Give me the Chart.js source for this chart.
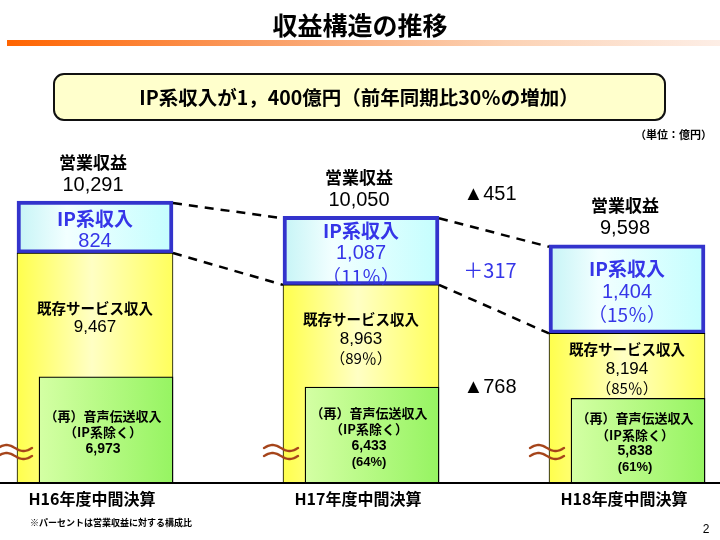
<!DOCTYPE html>
<html><head><meta charset="utf-8">
<script src="https://cdn.jsdelivr.net/npm/chart.js@4"></script>
<style>html,body{margin:0;padding:0;background:#fff;}canvas{display:block;}</style>
</head><body>
<canvas id="c" width="720" height="540"></canvas>
<script>
// ---- data ----
const categories = ['H16年度中間決算', 'H17年度中間決算', 'H18年度中間決算'];
const operatingRevenue = [10291, 10050, 9598];
const ipRevenue = [824, 1087, 1404];
const existingRevenue = [9467, 8963, 8194];
const voiceRevenue = [6973, 6433, 5838];
const ipShare = ['', '（11％）', '（15％）'];
const existingShare = ['', '（89％）', '（85％）'];
const voiceShare = ['', '(64%)', '(61%)'];
const changeLabels = ['▲451', '＋317', '▲768'];
const titleText = '収益構造の推移';
const headline = 'IP系収入が1，400億円（前年同期比30％の増加）';
const unitText = '（単位：億円）';
const noteText = '※パーセントは営業収益に対する構成比';
const pageNo = '2';

// ---- style ----
const JP = '"Noto Sans CJK JP", "Noto Sans", sans-serif';
const LAT = '"Liberation Sans", Arial, sans-serif';
const BAR_W = 156, GREEN_W = 134;
const BLUE_TXT = '#3535e8';
const CLIP_V = { left: false, right: false, top: 0, bottom: 0 };

function fmt(v) { return v.toLocaleString('en-US'); }

function gradFor(axisId, width, stops, fallback) {
  return ctx => {
    if (ctx.type !== 'data') return fallback;
    const chart = ctx.chart;
    const xs = chart.scales[axisId];
    if (!xs) return fallback;
    const cx = xs.getPixelForValue(ctx.dataIndex);
    if (!isFinite(cx)) return fallback;
    const g = chart.ctx.createLinearGradient(cx - width / 2, 0, cx + width / 2, 0);
    stops.forEach(s => g.addColorStop(s[0], s[1]));
    return g;
  };
}

function txt(c, s, x, y, font, color, align) {
  c.font = font; c.fillStyle = color || '#000';
  c.textAlign = align || 'center'; c.textBaseline = 'middle';
  c.fillText(s, x, y);
}

function stackLines(c, lines, x, mid, gap, color) {
  const start = mid - (lines.length - 1) * gap / 2;
  lines.forEach((l, k) => txt(c, l[0], x, start + k * gap, l[1], color));
}

function wave(c, cx, cy) {
  c.save();
  c.strokeStyle = '#a5441a'; c.lineWidth = 2.4; c.lineCap = 'round';
  [-4, 4].forEach(dy => {
    c.beginPath();
    for (let t = 0; t <= 34; t++) {
      const px = cx - 17 + t;
      const py = cy + dy + 3 * Math.sin(Math.PI * 2 * t / 34 + Math.PI);
      if (t === 0) c.moveTo(px, py); else c.lineTo(px, py);
    }
    c.stroke();
  });
  c.restore();
}

const deco = {
  id: 'deco',
  beforeDraw(chart) {
    const c = chart.ctx;
    c.save();
    c.fillStyle = '#fff'; c.fillRect(0, 0, chart.width, chart.height);
    txt(c, titleText, 360, 25, `bold 25px ${JP}`, '#000');
    const g = c.createLinearGradient(7, 0, 720, 0);
    g.addColorStop(0, '#ff6400'); g.addColorStop(0.35, '#fa9c62');
    g.addColorStop(0.7, '#fcd2b4'); g.addColorStop(1, '#fdeee6');
    c.fillStyle = g; c.fillRect(7, 40, 713, 6);
    c.beginPath();
    c.roundRect(54, 74, 611, 46, 10);
    c.fillStyle = '#ffffcc'; c.fill();
    c.lineWidth = 2; c.strokeStyle = '#111'; c.stroke();
    txt(c, headline, 359, 98, `bold 19.5px ${JP}`, '#000');
    txt(c, unitText, 712, 135, `bold 11px ${JP}`, '#000', 'right');
    txt(c, noteText, 30, 523, `bold 9px ${JP}`, '#000', 'left');
    txt(c, pageNo, 706, 530, `12px ${LAT}`, '#000');
    c.restore();
  },
  afterDatasetsDraw(chart) {
    const c = chart.ctx;
    const props = m => m.data.map(e => e.getProps(['x', 'y', 'base', 'width'], true));
    const gr = props(chart.getDatasetMeta(0));
    const ex = props(chart.getDatasetMeta(1));
    const ip = props(chart.getDatasetMeta(2));
    const bottom = chart.scales.y.bottom;
    c.save();
    c.strokeStyle = '#000'; c.lineWidth = 2.5; c.setLineDash([9, 7]);
    for (let i = 0; i < ip.length - 1; i++) {
      const a = ip[i], b = ip[i + 1];
      c.beginPath();
      c.moveTo(a.x + a.width / 2, a.y + 2); c.lineTo(b.x - b.width / 2, b.y + 2);
      c.moveTo(a.x + a.width / 2, a.base); c.lineTo(b.x - b.width / 2, b.base);
      c.stroke();
    }
    c.setLineDash([]);
    for (let i = 0; i < ip.length; i++) {
      const cx = ip[i].x;
      txt(c, '営業収益', cx - 2, ip[i].y - 39, `bold 17px ${JP}`, '#000');
      txt(c, fmt(operatingRevenue[i]), cx - 2, ip[i].y - 16, `20px ${LAT}`, '#000');
      const ipLines = [['IP系収入', `bold 19px ${JP}`], [fmt(ipRevenue[i]), `20px ${LAT}`]];
      if (ipShare[i]) ipLines.push([ipShare[i], `19px ${JP}`]);
      stackLines(c, ipLines, cx, (ip[i].y + ip[i].base) / 2 + 3, 23, BLUE_TXT);
      const exLines = [['既存サービス収入', `bold 14.5px ${JP}`], [fmt(existingRevenue[i]), `17px ${LAT}`]];
      if (existingShare[i]) exLines.push([existingShare[i], `15px ${JP}`]);
      stackLines(c, exLines, cx, (ex[i].y + gr[i].y) / 2 + 3, 19.5, '#000');
      const gLines = [['（再）音声伝送収入', `bold 13px ${JP}`], ['（IP系除く）', `bold 13px ${JP}`],
                      [fmt(voiceRevenue[i]), `bold 14px ${LAT}`]];
      if (voiceShare[i]) gLines.push([voiceShare[i], `bold 13px ${LAT}`]);
      stackLines(c, gLines, gr[i].x - 3, (gr[i].y + bottom) / 2 + 3, 16.5, '#000');
      wave(c, ex[i].x - ex[i].width / 2 - 2, bottom - 30);
      txt(c, categories[i], ex[i].x - 3, bottom + 17, `bold 16px ${JP}`, '#000');
    }
    const a = ip[1], b = ip[2];
    const mx = (a.x + a.width / 2 + b.x - b.width / 2) / 2 - 4;
    txt(c, changeLabels[0], mx, Math.min(a.y, b.y) - 22, `20px ${LAT}`, '#000');
    txt(c, changeLabels[1], mx, (a.y + b.y + a.base + b.base) / 4 + 1, `20px ${JP}`, BLUE_TXT);
    txt(c, changeLabels[2], mx, (a.base + b.base) / 2 + 78, `20px ${LAT}`, '#000');
    c.strokeStyle = '#000'; c.lineWidth = 2;
    c.beginPath(); c.moveTo(0, bottom + 1); c.lineTo(chart.width, bottom + 1); c.stroke();
    c.restore();
  }
};

const toXY = arr => arr.map((v, i) => ({ x: i, y: v }));

new Chart(document.getElementById('c'), {
  type: 'bar',
  data: {
    datasets: [
      {
        label: '（再）音声伝送収入', data: toXY(voiceRevenue), xAxisID: 'x2', yAxisID: 'y2', stack: 'voice',
        grouped: false, clip: CLIP_V,
        barThickness: GREEN_W, borderColor: '#000', borderWidth: 1.3, borderSkipped: false,
        backgroundColor: gradFor('x2', GREEN_W, [[0, '#d4ffa4'], [1, '#96f462']], '#b8fa80')
      },
      {
        label: '既存サービス収入', data: toXY(existingRevenue), xAxisID: 'x', yAxisID: 'y', stack: 'main',
        grouped: false, clip: CLIP_V,
        barThickness: BAR_W, borderColor: '#000', borderWidth: 1, borderSkipped: false,
        backgroundColor: gradFor('x', BAR_W, [[0, '#ffff4c'], [0.48, '#ffffc4'], [1, '#ffff5c']], '#ffff80')
      },
      {
        label: 'IP系収入', data: toXY(ipRevenue), xAxisID: 'x', yAxisID: 'y', stack: 'main',
        grouped: false, clip: CLIP_V,
        barThickness: BAR_W, borderColor: '#3333cc', borderWidth: 4, borderSkipped: false,
        backgroundColor: gradFor('x', BAR_W, [[0, '#c6f4f6'], [0.32, '#f2ffff'], [1, '#c4fefe']], '#ddffff')
      }
    ]
  },
  options: {
    responsive: false,
    animation: false,
    devicePixelRatio: 1,
    events: [],
    layout: { padding: { top: 150, bottom: 58, left: 95, right: 93 } },
    plugins: { legend: { display: false }, tooltip: { enabled: false } },
    scales: {
      x: { type: 'linear', min: 0, max: 2, offset: false, stacked: true, display: false },
      x2: { type: 'linear', min: -0.0414, max: 1.9586, offset: false, display: false },
      y: { type: 'linear', min: 5840, max: 11100, stacked: true, display: false },
      y2: { type: 'linear', min: 1400, max: 19000, display: false }
    }
  },
  plugins: [deco]
});
</script>
</body></html>
